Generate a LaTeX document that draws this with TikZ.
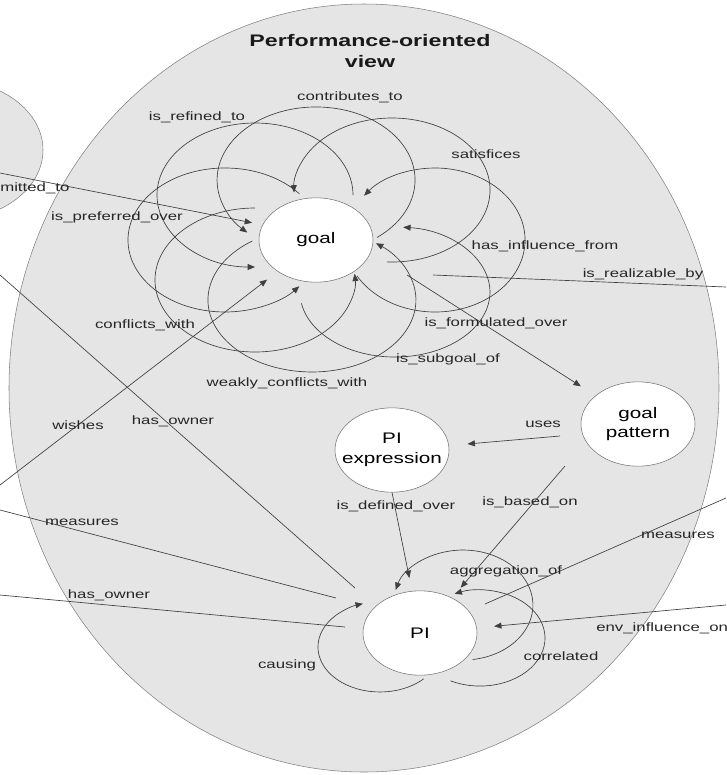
\documentclass[tikz,border=0pt]{standalone}
\usepackage{fontspec}
\setmainfont{Liberation Sans}
\usetikzlibrary{arrows.meta}

\begin{document}
\begin{tikzpicture}[x=0.75pt, y=-0.75pt,
	>={Triangle[length=5.5pt,width=4.5pt]},
	pnode/.style={circle, draw=black!55, fill=white, minimum size=85.5pt, inner sep=0pt, yscale=0.74, align=center, font=\fontsize{15.5}{20}\selectfont},
	lbl/.style={inner sep=0pt, yscale=0.72, text=black!85, font=\fontsize{12.6}{14}\selectfont},
	rel/.style={draw=black!75, line width=0.5pt}]
\useasboundingbox (0,0) rectangle (726,775);
\clip (0,0) rectangle (726,775);
% views
\draw[draw=black!50, fill=gray!20] (364,388) ellipse [x radius=355, y radius=384];
\draw[draw=black!50, fill=gray!20] (-50,150) ellipse [x radius=93, y radius=70];
\node[font=\bfseries\fontsize{17.4}{22}\selectfont, yscale=0.72, align=center, text=black!90] (ttl) at (370,51) {Performance-oriented\\view};
% concepts
\node[pnode] (goal) at (316,240) {goal};
\node[pnode] (pattern) at (638,424) {goal\\pattern};
\node[pnode] (expr) at (392,450) {PI\\expression};
\node[pnode] (pi) at (420,633) {PI};
% loops on goal
\coordinate (rfS) at (353,195);
\coordinate (ctS) at (377,237.5);
\coordinate (stS) at (386.9,261.9);
\coordinate (hiS) at (357.1,276);
\coordinate (sgS) at (301.4,303.3);
\coordinate (wcS) at (252.3,241);
\coordinate (cwS) at (255,208);
\coordinate (poS) at (299.3,193.7);
\draw[rel,->] (rfS) arc[start angle=0, end angle=-270, x radius=98, y radius=72];
\draw[rel,->] (ctS) arc[start angle=52, end angle=-226, x radius=99, y radius=73];
\draw[rel,->] (stS) arc[start angle=93, end angle=-182, x radius=98, y radius=72];
\draw[rel,->] (hiS) arc[start angle=150, end angle=-142, x radius=90, y radius=72];
\draw[rel,->] (sgS) arc[start angle=170, end angle=-85, x radius=95, y radius=65];
\draw[rel,->] (wcS) arc[start angle=-125, end angle=-412, x radius=104, y radius=72];
\draw[rel,->] (cwS) arc[start angle=-90, end angle=-365, x radius=100, y radius=72];
\draw[rel,->] (poS) arc[start angle=-40, end angle=-320, x radius=97, y radius=72];
% loops on PI
\coordinate (agS) at (472.7,659.5);
\coordinate (crS) at (450.5,680.8);
\coordinate (caS) at (423.8,678.8);
\draw[rel,->] (agS) arc[start angle=82, end angle=-164, x radius=70, y radius=55];
\draw[rel,->] (crS) arc[start angle=117, end angle=-113, x radius=65, y radius=48];
\draw[rel,->] (caS) arc[start angle=45, end angle=254, x radius=62, y radius=45];
% links
\coordinate (cmL) at (0,173);
\coordinate (wsL) at (0,485);
\coordinate (fmS) at (407,275);
\coordinate (rbS) at (433,275);
\coordinate (rbE) at (726,287);
\coordinate (hoA) at (0,275);
\coordinate (hoB) at (355,588);
\coordinate (msA) at (0,510);
\coordinate (msB) at (336,598);
\coordinate (hoC) at (0,595);
\coordinate (hoD) at (345,627);
\coordinate (mrA) at (726,498);
\coordinate (mrB) at (485,604);
\coordinate (enA) at (726,605);
\coordinate (usS) at (560,436);
\coordinate (bsS) at (565,466);
\draw[rel,->,shorten >=8pt] (cmL) -- (goal.159);
\draw[rel,->,shorten >=10pt] (wsL) -- (goal.228);
\draw[rel,->,shorten >=13pt] (fmS) -- (pattern.138);
\draw[rel] (rbS) -- (rbE);
\draw[rel] (hoA) -- (hoB);
\draw[rel] (msA) -- (msB);
\draw[rel] (hoC) -- (hoD);
\draw[rel] (mrA) -- (mrB);
\draw[rel,->,shorten >=13pt] (enA) -- (pi.7);
\draw[rel,->,shorten >=14pt] (usS) -- (expr.6);
\draw[rel,->,shorten >=10pt] (expr.-90) -- (pi.98);
\draw[rel,->,shorten >=10pt] (bsS) -- (pi.56);
% labels
\node[lbl] (lct) at (350,97) {contributes\_to};
\node[lbl] (lrf) at (197,117) {is\_refined\_to};
\node[lbl] (lst) at (486,154) {satisfices};
\node[lbl, anchor=west] (lcm) at (0,188) {mitted\_to};
\node[lbl] (lpo) at (117,217) {is\_preferred\_over};
\node[lbl] (lhi) at (545,246) {has\_influence\_from};
\node[lbl] (lrb) at (643,274) {is\_realizable\_by};
\node[lbl] (lcw) at (145,325) {conflicts\_with};
\node[lbl] (lfm) at (496,323) {is\_formulated\_over};
\node[lbl] (lsg) at (448,359) {is\_subgoal\_of};
\node[lbl] (lwc) at (287,383) {weakly\_conflicts\_with};
\node[lbl] (lws) at (78,425) {wishes};
\node[lbl] (lho) at (173,421) {has\_owner};
\node[lbl] (lus) at (543,424) {uses};
\node[lbl] (ldf) at (396,506) {is\_defined\_over};
\node[lbl] (lbs) at (530,502) {is\_based\_on};
\node[lbl] (lms) at (82,522) {measures};
\node[lbl] (lmr) at (678,535) {measures};
\node[lbl] (lag) at (506,571) {aggregation\_of};
\node[lbl] (lhw) at (109,595) {has\_owner};
\node[lbl, anchor=west] (len) at (596,628) {env\_influence\_on};
\node[lbl] (lcr) at (561,656) {correlated};
\node[lbl] (lca) at (287,665) {causing};
\end{tikzpicture}
\end{document}
